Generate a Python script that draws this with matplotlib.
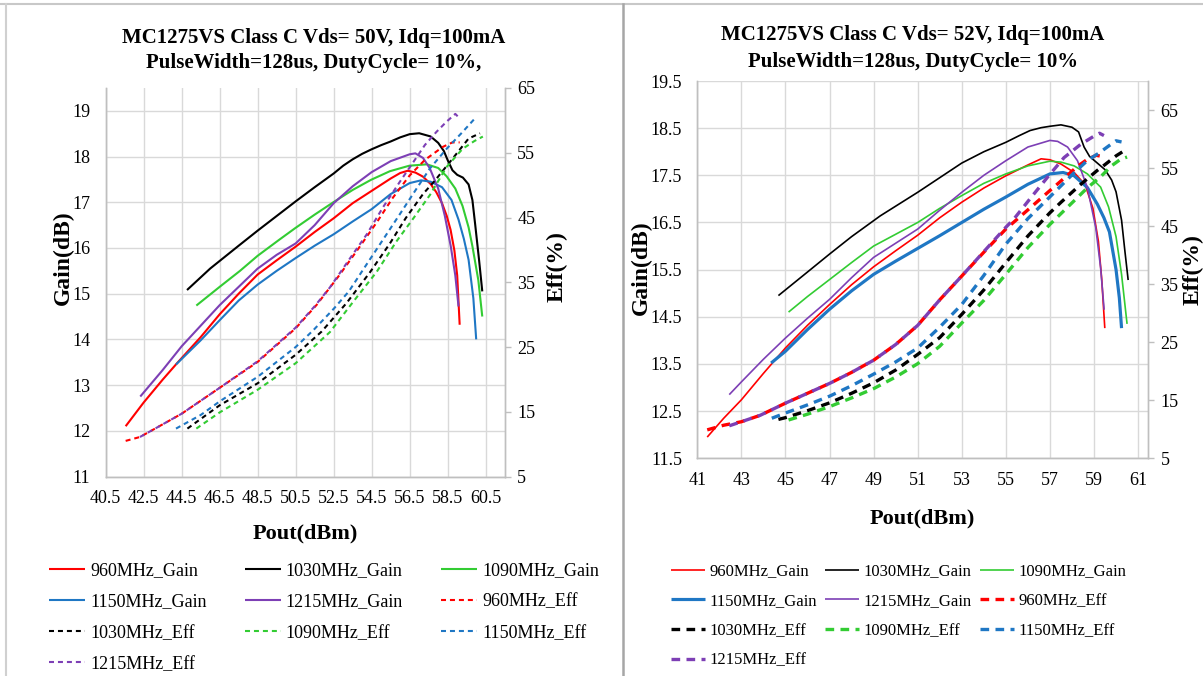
import matplotlib
matplotlib.use('Agg')
import matplotlib.pyplot as plt
from matplotlib.lines import Line2D

plt.rcParams['font.family'] = ['Liberation Serif', 'DejaVu Serif']

freqs = ['960MHz', '1030MHz', '1090MHz', '1150MHz', '1215MHz']
colors = ['#FF0000', '#000000', '#33CC33', '#1F77C4', '#7D3FB5']

# ---------------- Panel A : Vds = 50V ----------------
a_title = ['MC1275VS Class C Vds= 50V, Idq=100mA', 'PulseWidth=128us, DutyCycle= 10%,']
a_xticks = [40.5, 42.5, 44.5, 46.5, 48.5, 50.5, 52.5, 54.5, 56.5, 58.5, 60.5]
a_gticks = [11, 12, 13, 14, 15, 16, 17, 18, 19]
a_eticks = [5, 15, 25, 35, 45, 55, 65]

a_g960_x = [41.55, 42.5, 43.5, 44.3, 45.5, 46.5, 47.5, 48.5, 49.5, 50.5, 51.5, 52.5, 53.5, 54.5, 55.5, 56.0, 56.4, 56.8, 57.2, 57.6, 57.9, 58.2, 58.45, 58.65, 58.85, 59.0, 59.13]
a_g960_y = [12.10, 12.62, 13.12, 13.50, 14.05, 14.55, 15.00, 15.42, 15.73, 16.03, 16.35, 16.65, 16.98, 17.25, 17.52, 17.64, 17.69, 17.65, 17.56, 17.40, 17.22, 16.98, 16.70, 16.40, 15.95, 15.40, 14.32]
a_g1030_x = [44.78, 46.0, 47.5, 48.5, 49.5, 50.5, 51.5, 52.5, 53.0, 53.5, 54.0, 54.5, 55.0, 55.5, 56.0, 56.5, 57.0, 57.6, 58.0, 58.3, 58.5, 58.75, 59.0, 59.3, 59.6, 59.8, 59.95, 60.15, 60.32]
a_g1030_y = [15.08, 15.55, 16.05, 16.38, 16.70, 17.02, 17.33, 17.63, 17.80, 17.94, 18.06, 18.16, 18.25, 18.33, 18.42, 18.49, 18.51, 18.44, 18.30, 18.12, 17.92, 17.70, 17.60, 17.54, 17.39, 17.05, 16.50, 15.74, 15.05]
a_g1090_x = [45.27, 46.5, 47.57, 48.5, 49.6, 50.46, 51.5, 52.48, 53.5, 54.46, 55.46, 56.48, 57.4, 58.0, 58.44, 58.9, 59.28, 59.6, 59.8, 60.11, 60.32]
a_g1090_y = [14.74, 15.15, 15.50, 15.83, 16.17, 16.43, 16.73, 17.00, 17.27, 17.49, 17.68, 17.80, 17.83, 17.75, 17.57, 17.30, 16.92, 16.45, 16.04, 15.30, 14.50]
a_g1150_x = [44.2, 45.5, 46.5, 47.5, 48.5, 49.5, 50.5, 51.5, 52.5, 53.5, 54.5, 55.5, 56.5, 57.1, 57.6, 58.2, 58.7, 59.07, 59.35, 59.6, 59.85, 60.0]
a_g1150_y = [13.45, 13.98, 14.42, 14.85, 15.20, 15.50, 15.78, 16.05, 16.30, 16.58, 16.85, 17.18, 17.42, 17.48, 17.45, 17.33, 17.05, 16.62, 16.20, 15.74, 14.90, 14.00]
a_g1215_x = [42.32, 43.5, 44.5, 45.5, 46.5, 47.5, 48.5, 49.5, 50.5, 51.5, 52.5, 53.5, 54.5, 55.5, 56.5, 56.8, 57.2, 57.55, 58.0, 58.35, 58.66, 58.9, 59.07]
a_g1215_y = [12.75, 13.33, 13.85, 14.30, 14.75, 15.15, 15.55, 15.85, 16.10, 16.50, 16.98, 17.35, 17.66, 17.90, 18.05, 18.07, 17.97, 17.75, 17.30, 16.70, 16.04, 15.40, 14.72]

a_e960_x = [41.55, 42.3, 43.1, 44.5, 46.5, 48.5, 50.5, 51.6, 52.8, 53.8, 54.8, 55.6, 56.5, 57.3, 58.24, 58.75, 59.13]
a_e960_y = [10.5, 11.1, 12.4, 14.7, 18.7, 22.7, 27.9, 31.5, 36.1, 40.2, 44.4, 48.0, 51.5, 53.9, 55.9, 56.6, 56.6]
a_e1030_x = [44.8, 46.5, 48.5, 50.5, 51.87, 53.18, 54.4, 55.46, 56.29, 57.22, 57.8, 58.76, 59.6, 60.2]
a_e1030_y = [12.4, 16.0, 19.4, 23.8, 27.4, 31.8, 36.5, 41.0, 44.9, 48.7, 50.6, 54.1, 57.2, 58.0]
a_e1090_x = [45.27, 46.5, 48.5, 50.5, 52.3, 53.53, 54.76, 55.8, 56.7, 57.57, 58.44, 59.28, 59.9, 60.35]
a_e1090_y = [12.4, 14.9, 18.4, 22.5, 27.3, 32.0, 36.6, 41.3, 44.9, 48.5, 52.8, 55.6, 56.8, 57.5]
a_e1150_x = [44.2, 45.5, 46.5, 48.5, 50.5, 51.43, 52.5, 53.3, 54.06, 55.1, 56.0, 56.87, 57.57, 58.44, 59.28, 59.9]
a_e1150_y = [12.4, 14.5, 16.6, 20.4, 25.0, 27.6, 30.9, 33.6, 37.0, 41.6, 45.6, 49.5, 52.6, 55.6, 58.2, 60.2]
a_e1215_x = [42.3, 43.1, 44.5, 46.5, 48.5, 50.5, 51.5, 52.3, 53.36, 54.24, 55.1, 56.0, 56.7, 57.3, 57.9, 58.44, 58.9, 59.1]
a_e1215_y = [11.1, 12.4, 14.7, 18.7, 22.8, 28.0, 31.3, 34.2, 38.7, 42.4, 46.6, 50.6, 53.6, 56.2, 58.2, 59.8, 61.0, 60.4]

# ---------------- Panel B : Vds = 52V ----------------
b_title = ['MC1275VS Class C Vds= 52V, Idq=100mA', 'PulseWidth=128us, DutyCycle= 10%']
b_xticks = [41, 43, 45, 47, 49, 51, 53, 55, 57, 59, 61]
b_gticks = [11.5, 12.5, 13.5, 14.5, 15.5, 16.5, 17.5, 18.5, 19.5]
b_eticks = [5, 15, 25, 35, 45, 55, 65]

b_g960_x = [41.45, 42.2, 43, 44, 45, 46, 47, 48, 49, 50, 51, 52, 53, 54, 55, 56, 56.6, 57.0, 57.5, 58.1, 58.6, 58.95, 59.2, 59.35, 59.49]
b_g960_y = [11.95, 12.35, 12.74, 13.30, 13.84, 14.32, 14.76, 15.18, 15.56, 15.90, 16.23, 16.60, 16.93, 17.23, 17.49, 17.72, 17.85, 17.83, 17.74, 17.56, 17.30, 16.80, 16.10, 15.30, 14.26]
b_g1030_x = [44.68, 46, 47, 48, 49.3, 51, 52, 53, 54, 55, 55.6, 56.1, 56.6, 57, 57.5, 58.0, 58.3, 58.55, 58.8, 59.1, 59.5, 59.8, 60.0, 60.25, 60.4, 60.55]
b_g1030_y = [14.95, 15.45, 15.83, 16.20, 16.64, 17.14, 17.45, 17.76, 18.00, 18.20, 18.34, 18.45, 18.51, 18.54, 18.57, 18.52, 18.42, 18.10, 17.90, 17.78, 17.62, 17.40, 17.15, 16.55, 15.90, 15.28]
b_g1090_x = [45.14, 46, 47, 48, 49, 50, 51, 52, 53, 54, 55, 56, 57, 57.5, 58.1, 58.7, 59.3, 59.66, 60.0, 60.25, 60.5]
b_g1090_y = [14.60, 14.93, 15.29, 15.65, 16.00, 16.25, 16.50, 16.80, 17.07, 17.33, 17.53, 17.70, 17.80, 17.78, 17.70, 17.53, 17.25, 16.83, 16.20, 15.40, 14.35]
b_g1150_x = [44.35, 45, 46, 47, 48, 49, 50, 51, 52, 53, 54, 55, 56, 57, 57.6, 58.1, 58.7, 59.15, 59.45, 59.7, 60.0, 60.15, 60.25]
b_g1150_y = [13.52, 13.77, 14.23, 14.66, 15.05, 15.40, 15.68, 15.95, 16.22, 16.50, 16.78, 17.04, 17.31, 17.53, 17.56, 17.49, 17.24, 16.89, 16.60, 16.30, 15.50, 14.90, 14.26]
b_g1215_x = [42.45, 43, 44, 45, 46, 47, 48, 49, 50, 51, 52, 53, 54, 55, 56, 57, 57.35, 57.8, 58.25, 58.7, 59.08, 59.3, 59.46]
b_g1215_y = [12.85, 13.12, 13.60, 14.05, 14.47, 14.87, 15.33, 15.76, 16.06, 16.36, 16.76, 17.14, 17.50, 17.81, 18.10, 18.24, 18.22, 18.10, 17.81, 17.24, 16.39, 15.54, 14.65]

b_e960_x = [41.45, 42.2, 43, 43.85, 45, 46, 47, 48, 49, 50, 51, 52, 53, 54, 55, 56, 56.9, 57.6, 58.25, 58.7, 59.1, 59.5]
b_e960_y = [9.9, 10.7, 11.3, 12.4, 14.5, 16.2, 17.9, 19.8, 21.9, 24.6, 27.9, 32.3, 36.4, 40.5, 44.5, 47.8, 50.8, 53.1, 55.3, 56.5, 57.2, 56.9]
b_e1030_x = [44.68, 45, 46, 47, 48, 49, 50, 51, 52, 53, 54, 55, 56, 57, 57.5, 58.4, 59.15, 59.5, 60.0, 60.5]
b_e1030_y = [11.7, 12.0, 13.2, 14.55, 16.2, 18.0, 20.2, 22.9, 25.8, 29.8, 34.0, 38.7, 43.3, 47.3, 49.1, 52.2, 54.6, 55.6, 57.1, 58.3]
b_e1090_x = [45.14, 46, 47, 48, 49, 50, 51, 52, 53, 54, 55, 56, 57, 58, 58.7, 59.3, 59.8, 60.2, 60.5]
b_e1090_y = [11.6, 12.6, 13.9, 15.4, 17.0, 19.0, 21.3, 24.3, 28.3, 32.2, 36.7, 41.3, 45.3, 49.0, 51.6, 53.5, 55.4, 56.5, 56.9]
b_e1150_x = [44.38, 45, 46, 47, 48, 49, 50, 51, 52, 53, 54, 55, 56, 57.2, 58.1, 58.7, 59.23, 59.7, 60.0, 60.25]
b_e1150_y = [11.9, 12.8, 14.2, 15.7, 17.5, 19.5, 21.6, 24.0, 27.6, 31.5, 36.5, 41.9, 46.3, 50.8, 54.2, 56.3, 57.6, 58.9, 59.7, 59.5]
b_e1215_x = [42.45, 43, 43.85, 45, 46, 47, 48, 49, 50, 51, 52, 53, 54, 55, 55.36, 56.2, 56.95, 57.64, 58.4, 59.0, 59.25, 59.45]
b_e1215_y = [10.6, 11.3, 12.4, 14.5, 16.2, 17.9, 19.8, 21.9, 24.6, 27.9, 32.3, 36.4, 40.6, 44.8, 46.2, 50.2, 53.7, 56.8, 59.1, 60.5, 61.0, 60.6]

W, H = 1203, 676
fig = plt.figure(figsize=(W / 100, H / 100), dpi=100)
fig.patch.set_facecolor('white')


def px_axes(l, t, r, b):
    return fig.add_axes([l / W, 1 - b / H, (r - l) / W, (b - t) / H])


def panel(ax, xlim, glim, elim, xticks, xfmt, gticks, gfmt, eticks,
          gains, effs, glw, elw, edash, thick_idx):
    ax.set_xlim(*xlim)
    ax.set_ylim(*glim)
    ax2 = ax.twinx()
    ax2.set_ylim(*elim)
    ax.set_xticks(xticks)
    ax.set_xticklabels([xfmt.format(v) for v in xticks])
    ax.set_yticks(gticks)
    ax.set_yticklabels([gfmt.format(v) for v in gticks])
    ax2.set_yticks(eticks)
    ax2.set_yticklabels([str(v) for v in eticks])
    ax.grid(True, color='#D9D9D9', lw=1.0)
    ax.set_axisbelow(True)
    for a in (ax, ax2):
        a.spines['top'].set_visible(False)
        for s in ('left', 'bottom', 'right'):
            a.spines[s].set_color('#BFBFBF')
            a.spines[s].set_linewidth(1.0)
    ax.tick_params(axis='both', length=0, labelsize=13, colors='#000000')
    ax.tick_params(axis='x', pad=10)
    ax.tick_params(axis='y', pad=11)
    ax2.tick_params(axis='y', length=4, width=1, color='#BFBFBF', direction='out',
                    labelsize=13, pad=5)
    handles = []
    for i, (x, y) in enumerate(gains):
        lw = glw * (1.9 if i == thick_idx else 1.0)
        h, = ax.plot(x, y, color=colors[i], lw=lw, solid_capstyle='butt',
                     solid_joinstyle='round', label=freqs[i] + '_Gain')
        handles.append(h)
    for i, (x, y) in enumerate(effs):
        h, = ax2.plot(x, y, color=colors[i], lw=elw, linestyle=(0, edash),
                      dash_capstyle='butt', label=freqs[i] + '_Eff')
        handles.append(h)
    return ax2, handles


def row_major(handles, ncol):
    cols = [[] for _ in range(ncol)]
    for k, h in enumerate(handles):
        cols[k % ncol].append(h)
    out = []
    for c in cols:
        out.extend(c)
    return out


# Panel A
axA = px_axes(105.7, 88, 504.7, 476.5)
a_gains = [(a_g960_x, a_g960_y), (a_g1030_x, a_g1030_y), (a_g1090_x, a_g1090_y),
           (a_g1150_x, a_g1150_y), (a_g1215_x, a_g1215_y)]
a_effs = [(a_e960_x, a_e960_y), (a_e1030_x, a_e1030_y), (a_e1090_x, a_e1090_y),
          (a_e1150_x, a_e1150_y), (a_e1215_x, a_e1215_y)]
axA2, hA = panel(axA, (40.5, 61.5), (11, 19.5), (5, 65), a_xticks, '{:.1f}',
                 a_gticks, '{:d}', a_eticks, a_gains, a_effs,
                 glw=1.5, elw=1.5, edash=(2.4, 1.9), thick_idx=-1)

# Panel B
axB = px_axes(697.3, 81, 1148, 458.3)
b_gains = [(b_g960_x, b_g960_y), (b_g1030_x, b_g1030_y), (b_g1090_x, b_g1090_y),
           (b_g1150_x, b_g1150_y), (b_g1215_x, b_g1215_y)]
b_effs = [(b_e960_x, b_e960_y), (b_e1030_x, b_e1030_y), (b_e1090_x, b_e1090_y),
          (b_e1150_x, b_e1150_y), (b_e1215_x, b_e1215_y)]
axB2, hB = panel(axB, (41, 61.45), (11.5, 19.5), (5, 70), b_xticks, '{:d}',
                 b_gticks, '{:.1f}', b_eticks, b_gains, b_effs,
                 glw=1.2, elw=2.4, edash=(2.6, 1.9), thick_idx=3)

# axis labels
lab = dict(fontsize=17, fontweight='bold', rotation=90, ha='center', va='center')
fig.text(63 / W, 1 - 258 / H, 'Gain(dB)', **lab)
fig.text(557 / W, 1 - 267 / H, 'Eff(%)', **lab)
fig.text(641 / W, 1 - 268 / H, 'Gain(dB)', **lab)
fig.text(1193 / W, 1 - 270 / H, 'Eff(%)', **lab)
fig.text(305 / W, 1 - 533 / H, 'Pout(dBm)', fontsize=16, fontweight='bold',
         ha='center', va='center')
fig.text(922 / W, 1 - 518 / H, 'Pout(dBm)', fontsize=16, fontweight='bold',
         ha='center', va='center')

# titles
for j, t in enumerate(a_title):
    fig.text(314 / W, 1 - (38 + 25 * j) / H, t, fontsize=15, fontweight='bold',
             ha='center', va='center')
for j, t in enumerate(b_title):
    fig.text(913 / W, 1 - (35 + 27 * j) / H, t, fontsize=15, fontweight='bold',
             ha='center', va='center')

# legends
hA_o = row_major(hA, 3)
fig.legend(hA_o, [h.get_label() for h in hA_o], ncol=3, loc='upper left',
           bbox_to_anchor=(49 / W, 1 - 562.5 / H), frameon=False, fontsize=13,
           handlelength=2.0, handletextpad=0.28, columnspacing=2.1,
           labelspacing=0.78, borderpad=0, borderaxespad=0)
hB_o = row_major(hB, 3)
fig.legend(hB_o, [h.get_label() for h in hB_o], ncol=3, loc='upper left',
           bbox_to_anchor=(671 / W, 1 - 563.5 / H), frameon=False, fontsize=12,
           handlelength=2.05, handletextpad=0.25, columnspacing=0.5,
           labelspacing=0.82, borderpad=0, borderaxespad=0)

# frame / divider lines
fig.add_artist(Line2D([0, 1], [1 - 4 / H, 1 - 4 / H], color='#C8C8C8', lw=1.5))
fig.add_artist(Line2D([6 / W, 6 / W], [0, 1 - 4 / H], color='#D0D0D0', lw=1.5))
fig.add_artist(Line2D([622.7 / W, 622.7 / W], [0, 1 - 4 / H], color='#A6A6A6', lw=1.8))

fig.savefig('out.png', dpi=100)
